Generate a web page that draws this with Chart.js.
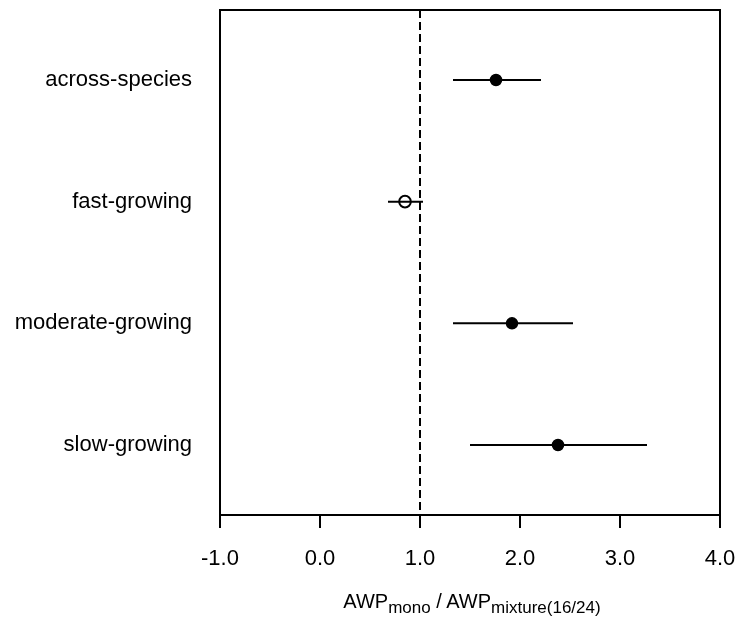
<!DOCTYPE html>
<html>
<head>
<meta charset="utf-8">
<script src="https://cdn.jsdelivr.net/npm/chart.js@4.4.1/dist/chart.umd.min.js"></script>
<style>
body{margin:0;background:#fff;}
#wrap{position:relative;width:737px;height:619px;}
#xtitle{position:absolute;left:222px;width:500px;top:590px;text-align:center;
  font:20px "Liberation Sans",Arial,sans-serif;color:#000;line-height:22px;white-space:nowrap;}
#xtitle sub{font-size:17px;vertical-align:-5px;line-height:0;}
</style>
</head>
<body>
<div id="wrap">
  <canvas id="forest" width="737" height="619"></canvas>
  <div id="xtitle">AWP<sub>mono</sub> / AWP<sub>mixture(16/24)</sub></div>
</div>
<script>
const groups=["across-species","fast-growing","moderate-growing","slow-growing"];
const means=[1.76,0.85,1.92,2.38];
const lower=[1.33,0.68,1.33,1.50];
const upper=[2.21,1.03,2.53,3.27];
const filled=[true,false,true,true];
const xTicks=[-1,0,1,2,3,4];
const refLine=1;
const yMin=0.425, yMax=4.575;

const fam="'Liberation Sans', Arial, sans-serif";

const datasets=[];
// reference line at 1
datasets.push({
    type:"line",
    data:[{x:refLine,y:yMin},{x:refLine,y:yMax}],
    borderColor:"#000",
    borderWidth:2,
    borderDash:[8,4],
    pointRadius:0
});
// confidence intervals
for(let i=0;i<groups.length;i++){
    datasets.push({
        type:"line",
        data:[{x:lower[i],y:i+1},{x:upper[i],y:i+1}],
        borderColor:"#000",
        borderWidth:2,
        pointRadius:0
    });
}
// means
datasets.push({
    type:"scatter",
    data:means.map((m,i)=>({x:m,y:i+1})),
    pointRadius:filled.map(f=>f?5.5:5.8),
    pointBorderWidth:filled.map(f=>f?1.5:2),
    pointBorderColor:"#000",
    pointBackgroundColor:filled.map(f=>f?"#000":"#fff")
});

const boxPlugin={
    id:"box",
    afterDraw(chart){
        const a=chart.chartArea, ctx=chart.ctx;
        ctx.save();
        ctx.strokeStyle="#000";
        ctx.lineWidth=2;
        ctx.strokeRect(a.left,a.top,a.right-a.left,a.bottom-a.top);
        ctx.restore();
    }
};

new Chart(document.getElementById("forest"),{
    type:"scatter",
    data:{datasets:datasets},
    plugins:[boxPlugin],
    options:{
        responsive:false,
        animation:false,
        layout:{padding:{top:10,right:17,left:0,bottom:0}},
        plugins:{legend:{display:false},tooltip:{enabled:false}},
        scales:{
            x:{
                type:"linear",
                min:-1,max:4,
                afterBuildTicks:(ax)=>{ax.ticks=xTicks.map(v=>({value:v}));},
                afterFit:(ax)=>{ax.height=104;},
                ticks:{callback:(v)=>v.toFixed(1),font:{family:fam,size:22,lineHeight:2.7},color:"#000",padding:1,maxRotation:0},
                grid:{drawOnChartArea:false,drawTicks:true,tickLength:13,color:"#000",lineWidth:2},
                border:{color:"#000",width:2}
            },
            y:{
                type:"linear",
                reverse:true,
                min:yMin,max:yMax,
                afterBuildTicks:(ax)=>{ax.ticks=groups.map((g,i)=>({value:i+1}));},
                afterFit:(ax)=>{ax.width=220;},
                ticks:{callback:(v)=>groups[v-1],font:{family:fam,size:22,lineHeight:0.7},color:"#000",padding:0},
                grid:{drawOnChartArea:false,drawTicks:true,tickLength:28,color:"rgba(0,0,0,0)"},
                border:{color:"#000",width:2}
            }
        }
    }
});
</script>
</body>
</html>
